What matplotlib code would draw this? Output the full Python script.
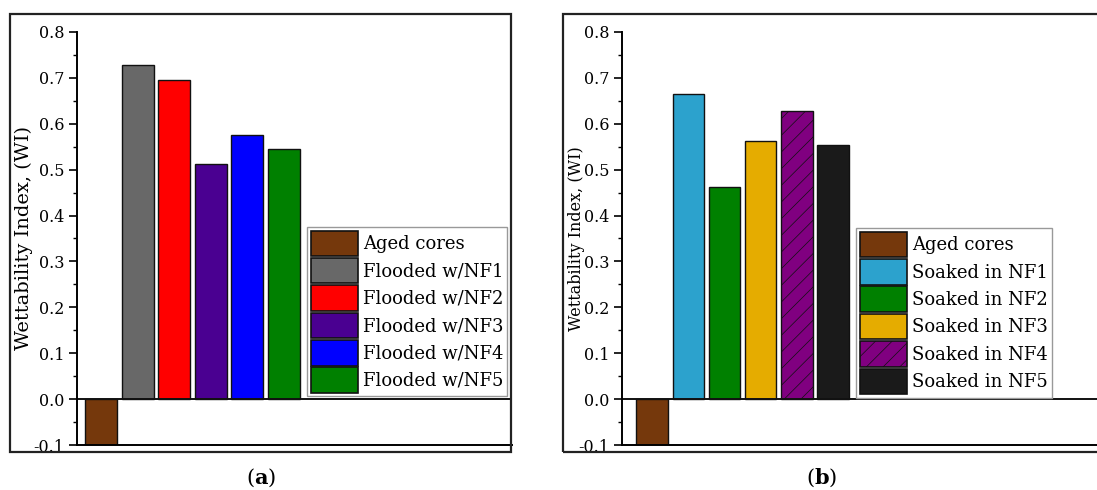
import matplotlib
matplotlib.use("Agg")
import matplotlib.pyplot as plt
from matplotlib.patches import Rectangle, Patch

plt.rcParams['font.family'] = ['DejaVu Serif']
plt.rcParams['mathtext.fontset'] = 'dejavuserif'
plt.rcParams['hatch.linewidth'] = 0.5

# data
labels_a = ['Aged cores', 'Flooded w/NF1', 'Flooded w/NF2', 'Flooded w/NF3',
            'Flooded w/NF4', 'Flooded w/NF5']
values_a = [-0.1, 0.727, 0.695, 0.512, 0.575, 0.545]
colors_a = ['#75380C', '#686868', '#FF0000', '#4A0091', '#0000FF', '#008000']

labels_b = ['Aged cores', 'Soaked in NF1', 'Soaked in NF2', 'Soaked in NF3',
            'Soaked in NF4', 'Soaked in NF5']
values_b = [-0.1, 0.665, 0.463, 0.562, 0.628, 0.553]
colors_b = ['#75380C', '#2CA2CD', '#008000', '#E5AC00', '#800080', '#1A1A1A']
hatch_b = [None, None, None, None, '//', None]

yticks = [-0.1, 0.0, 0.1, 0.2, 0.3, 0.4, 0.5, 0.6, 0.7, 0.8]

W, H = 1097, 490
fig = plt.figure(figsize=(W / 100, H / 100), dpi=100)


def px_box(x0, y0, x1, y1):
    # pixel box (top-left origin) -> figure fraction [l, b, w, h]
    return [x0 / W, (H - y1) / H, (x1 - x0) / W, (y1 - y0) / H]


# outer frames round each panel
for x0, x1 in [(10, 511), (563, 1105)]:
    l, b, w, h = px_box(x0, 14, x1, 452)
    fig.patches.append(Rectangle((l, b), w, h, transform=fig.transFigure,
                                 fill=False, edgecolor='#222222', lw=1.6))


def panel(box, xlim, labels, values, colors, hatches, leg_xy, ylab_size, ylab_x):
    ax = fig.add_axes(px_box(*box))
    x = list(range(len(values)))
    ax.bar(x, values, width=0.87, color=colors, edgecolor='#111111',
           linewidth=1.0, hatch=hatches)
    ax.set_xlim(*xlim)
    ax.set_ylim(-0.1, 0.8)
    ax.set_yticks(yticks)
    ax.set_yticklabels([f'{t:.1f}' for t in yticks])
    ax.set_yticks([t + 0.05 for t in yticks[:-1]], minor=True)
    ax.tick_params(axis='y', which='major', length=6, width=1.2, labelsize=11.5,
                   direction='out', pad=3)
    ax.tick_params(axis='y', which='minor', length=3, width=1.0, direction='out')
    ax.set_xticks([])
    ax.spines['top'].set_visible(False)
    ax.spines['right'].set_visible(False)
    ax.spines['left'].set_linewidth(1.4)
    ax.spines['bottom'].set_linewidth(1.4)
    ax.axhline(0, color='#111111', lw=1.4)
    ax.set_ylabel('Wettability Index, (WI)', fontsize=ylab_size)
    ax.yaxis.set_label_coords(ylab_x, 0.5)
    handles = [Patch(facecolor=c, edgecolor='#111111', hatch=h, lw=1.2)
               for c, h in zip(colors, hatches)]
    leg = ax.legend(handles, labels, loc='upper left', bbox_to_anchor=leg_xy,
                    fontsize=13, fancybox=False, framealpha=1,
                    edgecolor='#999999', handlelength=2.6, handleheight=1.8,
                    handletextpad=0.3, labelspacing=0.1, borderpad=0.2,
                    borderaxespad=0)
    leg.get_frame().set_linewidth(1.0)
    return ax


panel((77, 32, 512, 445), (-0.656, 11.23), labels_a, values_a, colors_a,
      [None] * 6, (0.529, 0.528), 14, -0.10)
panel((622, 32, 1097, 445), (-0.83, 12.29), labels_b, values_b, colors_b,
      hatch_b, (0.493, 0.525), 11.5, -0.078)

fig.text(261 / W, 1 - 478 / H, r'($\mathbf{a}$)', ha='center', va='center',
         fontsize=15)
fig.text(822 / W, 1 - 478 / H, r'($\mathbf{b}$)', ha='center', va='center',
         fontsize=15)

fig.savefig('out.png', dpi=100)
